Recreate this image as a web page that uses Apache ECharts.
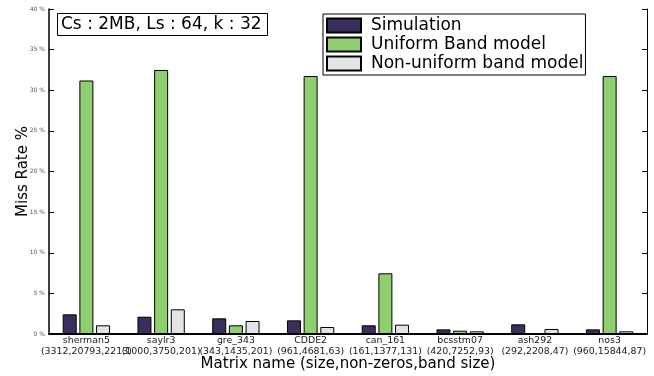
<!DOCTYPE html>
<html><head><meta charset="utf-8">
<script src="https://cdn.jsdelivr.net/npm/echarts@6/dist/echarts.min.js"></script>
<style>html,body{margin:0;padding:0;background:#fff}#c{width:654px;height:376px}</style>
</head><body><div id="c"></div>
<script>
const categories = ['sherman5','saylr3','gre_343','CDDE2','can_161','bcsstm07','ash292','nos3'];
const matrixInfo = ['(3312,20793,2213)','(1000,3750,201)','(343,1435,201)','(961,4681,63)','(161,1377,131)','(420,7252,93)','(292,2208,47)','(960,15844,87)'];
const simulation = [2.42, 2.13, 1.93, 1.68, 1.07, 0.57, 1.19, 0.57];
const uniformBand = [31.2, 32.5, 1.07, 31.75, 7.47, 0.41, 0, 31.75];
const nonUniformBand = [1.07, 3.04, 1.6, 0.86, 1.15, 0.33, 0.62, 0.33];
const seriesNames = ['Simulation','Uniform Band model','Non-uniform band model'];

const font = 'DejaVu Sans';
const chart = echarts.init(document.getElementById('c'));
const labels = categories.map((c,i)=>c+'\n'+matrixInfo[i]);
const barBase = {type:'bar', barWidth:14, barGap:'19%'};
chart.setOption({
  animation:false,
  textStyle:{fontFamily:font},
  title:{text:'Cs : 2MB, Ls : 64, k : 32', left:57, top:13, padding:[2,6,2,4],
    borderColor:'#000', borderWidth:1, backgroundColor:'#fff',
    textStyle:{fontFamily:font, fontSize:17, fontWeight:'normal', color:'#000', lineHeight:19}},
  legend:{orient:'vertical', left:323, top:14, itemWidth:34, itemHeight:14, itemGap:0, icon:'rect',
    borderColor:'#000', borderWidth:1, padding:[2,2,2,3], backgroundColor:'#fff',
    textStyle:{fontFamily:font, fontSize:17, color:'#000', lineHeight:19, padding:[0,0,0,5]}},
  grid:{left:49, right:7, top:9, bottom:42, outerBoundsMode:'none', containLabel:false},
  xAxis:[{type:'category', data:labels,
    name:'Matrix name (size,non-zeros,band size)', nameLocation:'middle', nameGap:23, nameMoveOverlap:false,
    nameTextStyle:{fontFamily:font, fontSize:15, color:'#000'},
    axisLine:{lineStyle:{color:'#000', width:2}},
    axisTick:{inside:true, alignWithLabel:true, length:5, lineStyle:{color:'#000'}},
    axisLabel:{fontFamily:font, fontSize:9.4, color:'#1a1a1a', lineHeight:11, margin:1, interval:0, hideOverlap:false}},
   {type:'category', data:labels, position:'top',
    axisLine:{lineStyle:{color:'#000', width:1}},
    axisTick:{inside:true, alignWithLabel:true, length:5, lineStyle:{color:'#000'}},
    axisLabel:{show:false}}],
  yAxis:[{type:'value', min:0, max:40, interval:5,
    name:'Miss Rate %', nameLocation:'middle', nameGap:18, nameMoveOverlap:false,
    nameTextStyle:{fontFamily:font, fontSize:15, color:'#000'},
    axisLine:{show:true, lineStyle:{color:'#000', width:1.5}},
    axisTick:{show:true, inside:true, length:5, lineStyle:{color:'#000'}},
    axisLabel:{fontFamily:font, fontSize:6, color:'#555', margin:4, formatter:'{value} %'},
    splitLine:{show:false}},
   {type:'value', min:0, max:40, interval:5, position:'right',
    axisLine:{show:true, lineStyle:{color:'#000', width:1}},
    axisTick:{show:true, inside:true, length:5, lineStyle:{color:'#000'}},
    axisLabel:{show:false}, splitLine:{show:false}}],
  series:[
    Object.assign({}, barBase, {name:seriesNames[0], data:simulation, itemStyle:{color:'#3a2f5c', borderColor:'#000', borderWidth:1}}),
    Object.assign({}, barBase, {name:seriesNames[1], data:uniformBand, itemStyle:{color:'#8fcf6f', borderColor:'#000', borderWidth:1}}),
    Object.assign({}, barBase, {name:seriesNames[2], data:nonUniformBand, itemStyle:{color:'#e3e3e3', borderColor:'#000', borderWidth:1}})
  ]
});
</script></body></html>
